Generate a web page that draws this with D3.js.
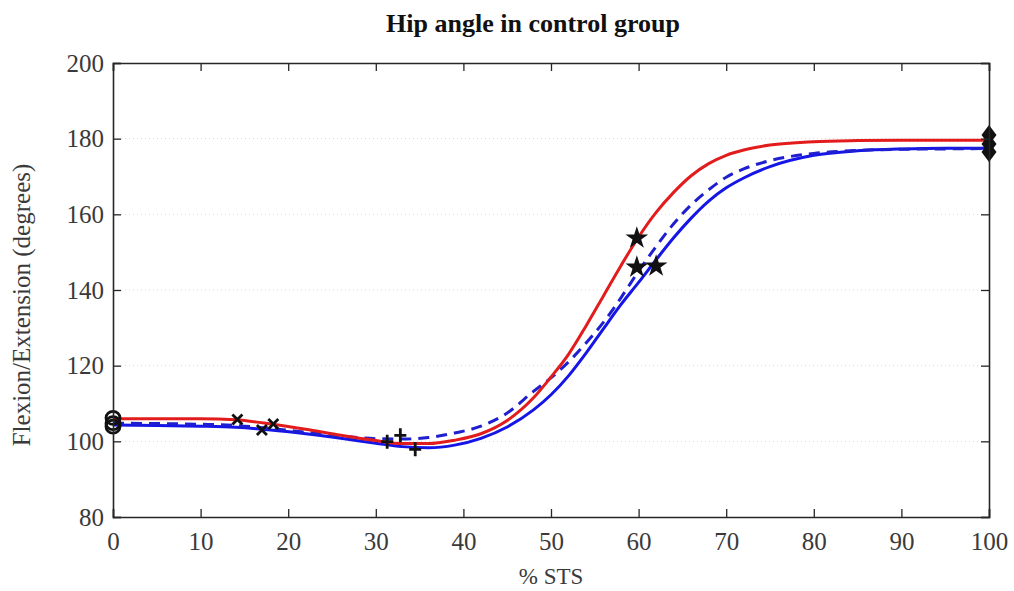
<!DOCTYPE html>
<html><head><meta charset="utf-8">
<script src="https://cdn.jsdelivr.net/npm/d3@7"></script>
<style>body{margin:0;background:#fff}svg{display:block}</style>
</head><body>
<svg id="c" width="1014" height="591"></svg>
<script>
const pct = [0,5,10,14,18,22,26,30,33,36,39,42,45,48,50,52,54,56,58,60,62,64,66,68,70,72,75,80,85,90,95,100];
const redVals = [106,106,106,105.7,104.6,103.2,101.6,100.2,99.4,99.4,100.3,102,105.5,111.5,117,123,130.5,138.5,146.5,154,160.5,165.8,170.2,173.4,175.6,177,178.3,179.2,179.5,179.6,179.6,179.6];
const blueVals = [104.3,104.2,104,103.7,103,102,100.8,99.5,98.6,98.3,99,100.8,103.8,108.3,112.3,117.3,123.3,129.8,136.2,142,148,153.8,159,163.5,167,169.6,172.6,175.6,176.8,177.3,177.5,177.5];
const dashVals = [104.8,104.7,104.5,104.2,103.4,102.4,101.4,100.7,100.6,101,102.2,104,107.5,113.2,116.8,121,126,131.5,138,145,151.5,157.5,162.5,166.5,169.8,172,174.2,176.1,176.9,177.2,177.3,177.4];
const circleX = [0,0,0], circleY = [106.2,104.8,103.9];
const crossX = [14.2,17,18.3], crossY = [105.8,103,104.6];
const plusX = [31.3,32.8,34.5], plusY = [99.9,101.6,97.9];
const starX = [59.8,59.8,62], starY = [153.7,146,146.3];
const diamX = [100,100,100], diamY = [181,178.6,176.5];
const xTicks = [0,10,20,30,40,50,60,70,80,90,100];
const yTicks = [80,100,120,140,160,180,200];

const svg = d3.select("#c");
const L=113, R=989, T=63, B=517;
const x = d3.scaleLinear().domain([0,100]).range([L,R]);
const y = d3.scaleLinear().domain([80,200]).range([B,T]);
const axisCol = "#262626", font = "'Liberation Serif','Times New Roman',serif";

// grid
svg.append("g").selectAll("line").data(yTicks.filter(d=>d>80&&d<200)).join("line")
  .attr("x1",L).attr("x2",R).attr("y1",d=>y(d)).attr("y2",d=>y(d))
  .attr("stroke","#d8d8d8").attr("stroke-width",1).attr("stroke-dasharray","1,3");

// curves
const line = (vals)=>d3.line().x((d,i)=>x(pct[i])).y(d=>y(d)).curve(d3.curveMonotoneX)(vals);
svg.append("path").attr("d",line(blueVals)).attr("fill","none").attr("stroke","#1515e6").attr("stroke-width",3);
svg.append("path").attr("d",line(dashVals)).attr("fill","none").attr("stroke","#1f1fd0").attr("stroke-width",3).attr("stroke-dasharray","11,7");
svg.append("path").attr("d",line(redVals)).attr("fill","none").attr("stroke","#e21c1c").attr("stroke-width",3);

// markers
const mk = svg.append("g").attr("fill","none").attr("stroke","#111").attr("stroke-width",2.8);
circleX.forEach((d,i)=>mk.append("ellipse").attr("cx",x(d)).attr("cy",y(circleY[i])).attr("rx",7).attr("ry",6.5));
crossX.forEach((d,i)=>mk.append("path").attr("transform",`translate(${x(d)},${y(crossY[i])})`).attr("d","M-5,-5L5,5M-5,5L5,-5"));
plusX.forEach((d,i)=>mk.append("path").attr("transform",`translate(${x(d)},${y(plusY[i])})`).attr("d","M-6,0L6,0M0,-7L0,7"));
const star = d3.symbol().type(d3.symbolStar).size(160);
starX.forEach((d,i)=>svg.append("path").attr("transform",`translate(${x(d)},${y(starY[i])})`).attr("d",star()).attr("fill","#111"));
diamX.forEach((d,i)=>svg.append("path").attr("transform",`translate(${x(d)},${y(diamY[i])})`).attr("d","M0,-10L7.5,0L0,10L-7.5,0Z").attr("fill","#111"));

// axes
const xb = svg.append("g").attr("transform",`translate(0,${B})`).call(d3.axisBottom(x).tickValues(xTicks).tickSize(-8).tickPadding(15));
const xt = svg.append("g").attr("transform",`translate(0,${T})`).call(d3.axisTop(x).tickValues(xTicks).tickSize(-8).tickFormat(""));
const yl = svg.append("g").attr("transform",`translate(${L},0)`).call(d3.axisLeft(y).tickValues(yTicks).tickSize(-8).tickPadding(9));
const yr = svg.append("g").attr("transform",`translate(${R},0)`).call(d3.axisRight(y).tickValues(yTicks).tickSize(-8).tickFormat(""));
[xb,xt,yl,yr].forEach(g=>{
  g.select(".domain").attr("stroke",axisCol).attr("stroke-width",1.6);
  g.selectAll(".tick line").attr("stroke",axisCol).attr("stroke-width",1.3);
  g.selectAll(".tick text").attr("font-family",font).attr("font-size",25).attr("fill","#3a3a3a");
});

svg.append("text").attr("x",533).attr("y",32).attr("text-anchor","middle").attr("font-family",font)
  .attr("font-weight","bold").attr("font-size",26).attr("fill","#111").text("Hip angle in control group");
svg.append("text").attr("x",551).attr("y",584).attr("text-anchor","middle").attr("font-family",font)
  .attr("font-size",23).attr("fill","#3a3a3a").text("% STS");
svg.append("text").attr("transform","translate(30,305) rotate(-90)").attr("text-anchor","middle").attr("font-family",font)
  .attr("font-size",25).attr("fill","#3a3a3a").text("Flexion/Extension (degrees)");
</script>
</body></html>
